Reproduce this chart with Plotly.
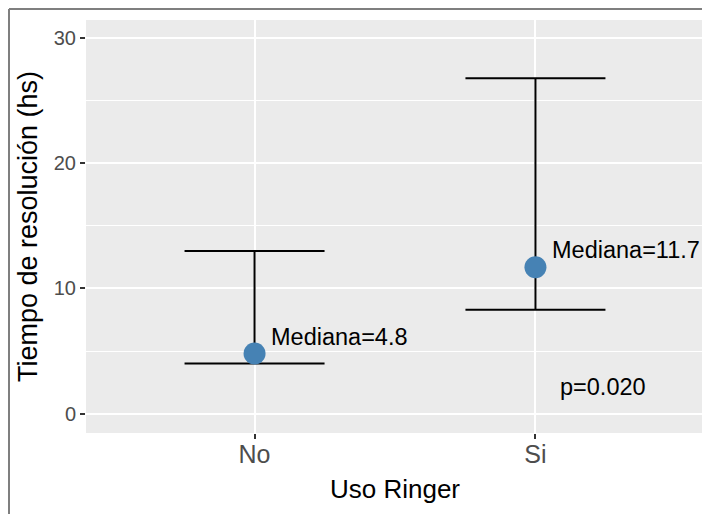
import plotly.graph_objects as go

categories = ["No", "Si"]
medians = [4.8, 11.7]
lower = [4.0, 8.3]
upper = [13.0, 26.8]
p_label = "p=0.020"
p_pos = (1.24, 2.1)
label_offset_x = 0.05
label_offset_y = 1.35

y_ticks = [0, 10, 20, 30]

FONT = "Liberation Sans, Arial, sans-serif"

W, H = 710, 514
ML, MT, MR, MB = 78, 12, 14, 89

fig = go.Figure()
fig.add_trace(go.Scatter(
    x=[0, 1],
    y=medians,
    mode="markers",
    marker=dict(size=22, color="#4682B4", line=dict(width=0)),
    error_y=dict(
        type="data", symmetric=False,
        array=[u - m for u, m in zip(upper, medians)],
        arrayminus=[m - l for m, l in zip(medians, lower)],
        width=70, thickness=2, color="black",
    ),
    showlegend=False,
    hoverinfo="skip",
))

annotations = []
for i, m in enumerate(medians):
    annotations.append(dict(
        x=i + label_offset_x, y=m + label_offset_y, xref="x", yref="y",
        text=f"Mediana={m}", showarrow=False, xanchor="left", yanchor="middle",
        font=dict(family=FONT, size=23.5, color="black"),
    ))
annotations.append(dict(
    x=p_pos[0], y=p_pos[1], xref="x", yref="y", text=p_label, showarrow=False,
    xanchor="center", yanchor="middle",
    font=dict(family=FONT, size=23.5, color="black"),
))

# outer frame (partial, cropped) drawn in paper coordinates
plot_w = W - ML - MR
plot_h = H - MT - MB
fx0 = (1 - ML) / plot_w
fy1 = 1 + (MT - 1) / plot_h

fig.update_layout(
    width=W, height=H,
    margin=dict(l=ML, r=MR, t=MT, b=MB, autoexpand=False),
    paper_bgcolor="white",
    plot_bgcolor="#EBEBEB",
    font=dict(family=FONT, color="black"),
    annotations=annotations,
    shapes=[
        dict(type="line", xref="paper", yref="paper", x0=fx0, x1=1.2, y0=fy1, y1=fy1,
             line=dict(color="#7F7F7F", width=2)),
        dict(type="line", xref="paper", yref="paper", x0=fx0, x1=fx0, y0=fy1, y1=-0.3,
             line=dict(color="#7F7F7F", width=2)),
    ],
    xaxis=dict(
        range=[-0.6, 1.6],
        tickvals=[0, 1], ticktext=categories,
        showgrid=True, gridcolor="white", gridwidth=2,
        zeroline=False, showline=False,
        ticks="outside", ticklen=5, tickwidth=1.5, tickcolor="#333333",
        ticklabelstandoff=-6,
        tickfont=dict(family=FONT, size=25, color="#4D4D4D"),
        title=dict(text="Uso Ringer", font=dict(family=FONT, size=26, color="black"), standoff=12),
    ),
    yaxis=dict(
        range=[-1.55, 31.45],
        tickvals=y_ticks,
        showgrid=True, gridcolor="white", gridwidth=2,
        minor=dict(tickvals=[5, 15, 25], showgrid=True, gridcolor="white", gridwidth=1, ticks=""),
        zeroline=False, showline=False,
        ticks="outside", ticklen=5, tickwidth=1.5, tickcolor="#333333",
        tickfont=dict(family=FONT, size=20, color="#4D4D4D"),
        title=dict(text="Tiempo de resolución (hs)", font=dict(family=FONT, size=27, color="black"), standoff=8),
    ),
)

fig.write_html("out.html")
